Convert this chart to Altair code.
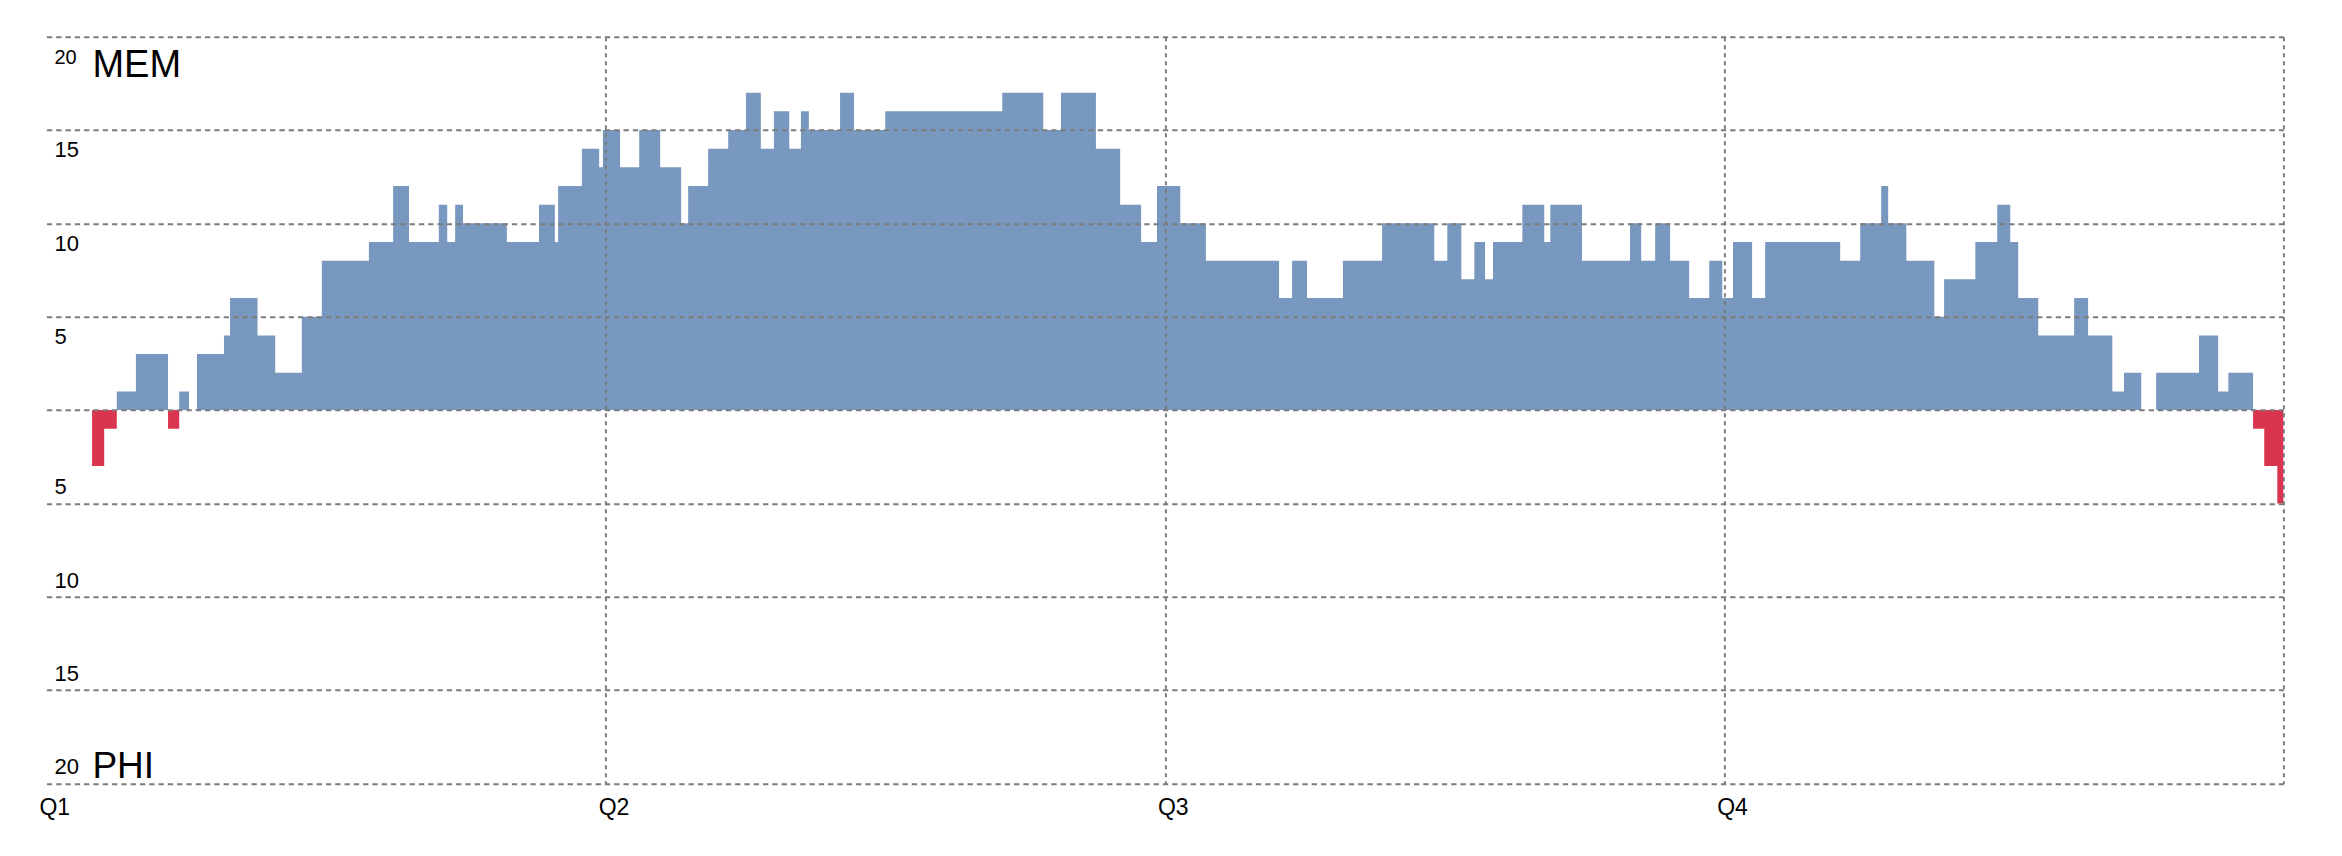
import altair as alt
import pandas as pd

# Game clock (minutes) at which each scoring margin starts, and the margin (MEM minus PHI)
minutes = [0.00, 0.98, 1.24, 1.51, 1.92, 2.61, 2.85, 3.06, 3.23, 3.81, 3.94,
           4.53, 4.91, 5.48, 5.91, 6.92, 7.44, 7.78, 8.42, 8.60, 8.77,
           8.94, 9.88, 10.57, 10.91, 10.98, 11.49, 11.86, 11.94, 12.31, 12.72,
           13.17, 13.62, 13.77, 14.20, 14.63, 15.01, 15.33, 15.61, 15.94, 16.19,
           16.36, 17.03, 17.33, 18.00, 20.51, 21.39, 21.77, 22.52, 23.04, 23.49,
           23.83, 24.33, 24.88, 26.45, 26.73, 27.05, 27.82, 28.66, 29.78, 30.06,
           30.36, 30.64, 30.87, 31.04, 31.67, 32.14, 32.27, 32.95, 33.98, 34.22,
           34.52, 34.84, 35.25, 35.68, 35.96, 36.19, 36.60, 36.88, 38.49, 38.92,
           39.37, 39.52, 39.91, 40.51, 40.72, 41.39, 41.86, 42.14, 42.31, 42.74,
           43.51, 43.81, 44.33, 44.58, 44.95, 45.27, 46.19, 46.60, 46.82, 47.35,
           47.59, 47.87]
margin = [0, -3, -1, 1, 3, -1, 1, 0, 3, 4, 6,
          4, 2, 5, 8, 9, 12, 9, 11, 9, 11,
          10, 9, 11, 9, 12, 14, 13, 15, 13, 15,
          13, 10, 12, 14, 15, 17, 14, 16, 14, 16,
          15, 17, 15, 16, 17, 15, 17, 14, 11, 9,
          12, 10, 8, 6, 8, 6, 8, 10, 8, 10,
          7, 9, 7, 9, 11, 9, 11, 8, 10, 8,
          10, 8, 6, 8, 6, 9, 6, 9, 8, 10,
          12, 10, 8, 5, 7, 9, 11, 9, 6, 4,
          6, 4, 1, 2, 0, 2, 4, 1, 2, -1,
          -3, -5]
game_end = 48.0

quarter_ticks = [0, 12, 24, 36, 48]
margin_ticks = [-20, -15, -10, -5, 0, 5, 10, 15, 20]
team_top = "MEM"
team_bottom = "PHI"

FONT = "Liberation Sans, Arial, Helvetica, sans-serif"
BLUE = "#7898c0"
RED = "#d9354e"
GRID = "#7c7c7c"

t_all = minutes + [game_end]
m_all = margin + [margin[-1]]
df = pd.DataFrame({"minute": t_all, "margin": m_all})
df["mem_lead"] = df["margin"].clip(lower=0)
df["phi_lead"] = df["margin"].clip(upper=0)

x_scale = alt.Scale(domain=[0, 48], nice=False, zero=False)
y_scale = alt.Scale(domain=[-20, 20], nice=False)

x_axis = alt.Axis(
    values=quarter_ticks, title=None, grid=True, gridDash=[4, 4], gridWidth=2,
    gridColor=GRID,
    gridOpacity={"condition": {"test": "datum.value == 0", "value": 0}, "value": 1},
    ticks=False, tickSize=0, domain=False, labelFlush=False, labelOverlap=False,
    labelExpr="datum.value >= 48 ? '' : 'Q' + (datum.value / 12 + 1)",
    labelAlign="left", labelOffset=-7.5, labelBaseline="top", labelPadding=13,
    labelFont=FONT, labelFontSize=23, labelColor="black", zindex=1,
)
y_axis = alt.Axis(
    values=margin_ticks, title=None, grid=True, gridDash=[5.3, 4], gridWidth=2,
    gridColor=GRID, ticks=False, tickSize=0, domain=False, labelOverlap=False,
    labelExpr="datum.value == 0 ? '' : format(abs(datum.value), 'd')",
    labelAlign="left", labelPadding=-7.6, labelBaseline="alphabetic",
    labelOffset={"condition": {"test": "datum.value > 0", "value": 26.7}, "value": -9.5},
    labelFontSize={"condition": {"test": "datum.value == 20", "value": 20}, "value": 22},
    labelFont=FONT, labelColor="black", zindex=1,
)

X = alt.X("minute:Q", scale=x_scale, axis=x_axis)

mem_area = alt.Chart(df).mark_area(interpolate="step-after", color=BLUE, opacity=1).encode(
    x=X,
    y=alt.Y("mem_lead:Q", scale=y_scale, axis=y_axis),
    y2=alt.Y2Datum(0),
)
phi_area = alt.Chart(df).mark_area(interpolate="step-after", color=RED, opacity=1).encode(
    x=X,
    y=alt.Y("phi_lead:Q", scale=y_scale, axis=y_axis),
    y2=alt.Y2Datum(0),
)

labels_top = pd.DataFrame({"minute": [0], "mem_lead": [20], "team": [team_top]})
labels_bottom = pd.DataFrame({"minute": [0], "mem_lead": [-20], "team": [team_bottom]})

top_label = alt.Chart(labels_top).mark_text(
    align="left", baseline="alphabetic", font=FONT, fontSize=38, color="black",
    dx=46, dy=40.6,
).encode(
    x=X,
    y=alt.Y("mem_lead:Q", scale=y_scale, axis=y_axis),
    text="team:N",
)
bottom_label = alt.Chart(labels_bottom).mark_text(
    align="left", baseline="alphabetic", font=FONT, fontSize=37, color="black",
    dx=46, dy=-5.3,
).encode(
    x=X,
    y=alt.Y("mem_lead:Q", scale=y_scale, axis=y_axis),
    text="team:N",
)

chart = alt.layer(mem_area, phi_area, top_label, bottom_label).properties(
    width=2237,
    height=746.7,
    autosize=alt.AutoSizeParams(type="none"),
    padding={"left": 38.4, "top": 28.7, "right": 10, "bottom": 50},
    background="white",
).configure_view(stroke=None)

chart.save("out.html", embed_options={"renderer": "svg", "actions": False})
